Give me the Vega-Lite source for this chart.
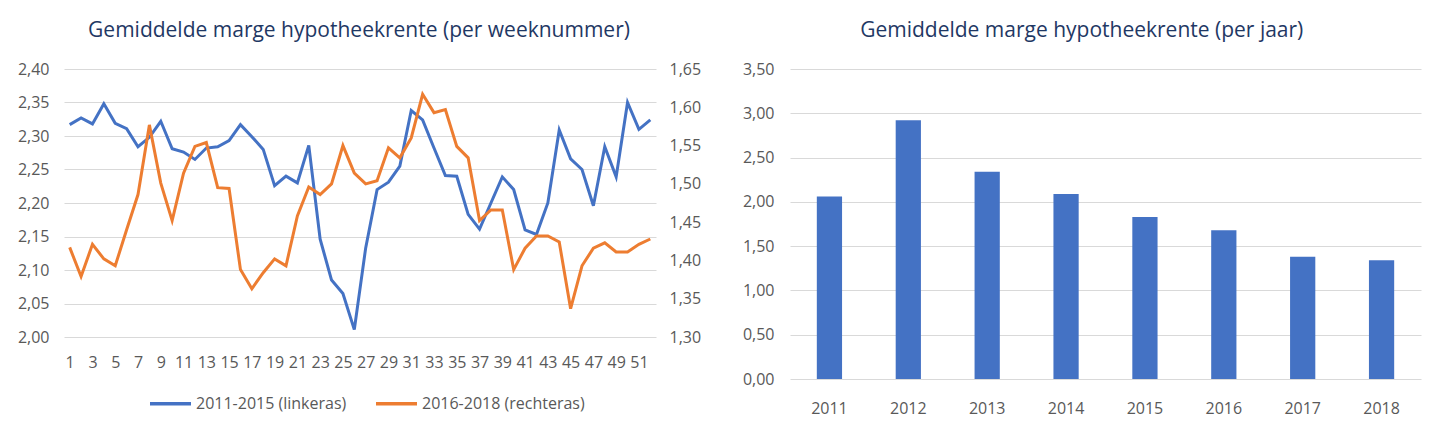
{
  "$schema": "https://vega.github.io/schema/vega-lite/v6.json",
  "background": "white",
  "padding": {"left": 17, "top": 20, "right": 20, "bottom": 5},
  "config": {
    "font": "Open Sans",
    "view": {"stroke": null},
    "axis": {
      "labelColor": "#595959",
      "labelFontSize": 16,
      "labelOverlap": false,
      "domain": false,
      "ticks": false,
      "gridColor": "#D9D9D9",
      "gridWidth": 1,
      "title": null
    },
    "title": {"color": "#1F3864", "fontSize": 21, "fontWeight": "normal", "offset": 20, "frame": "bounds"},
    "concat": {"spacing": 41}
  },
  "hconcat": [
    {
      "title": "Gemiddelde marge hypotheekrente (per weeknummer)",
      "width": 592,
      "height": 268,
      "data": {
        "values": [
          {"week": 1, "reeks": "2011-2015 (linkeras)", "marge": 2.317},
          {"week": 2, "reeks": "2011-2015 (linkeras)", "marge": 2.327},
          {"week": 3, "reeks": "2011-2015 (linkeras)", "marge": 2.318},
          {"week": 4, "reeks": "2011-2015 (linkeras)", "marge": 2.348},
          {"week": 5, "reeks": "2011-2015 (linkeras)", "marge": 2.319},
          {"week": 6, "reeks": "2011-2015 (linkeras)", "marge": 2.311},
          {"week": 7, "reeks": "2011-2015 (linkeras)", "marge": 2.284},
          {"week": 8, "reeks": "2011-2015 (linkeras)", "marge": 2.298},
          {"week": 9, "reeks": "2011-2015 (linkeras)", "marge": 2.322},
          {"week": 10, "reeks": "2011-2015 (linkeras)", "marge": 2.281},
          {"week": 11, "reeks": "2011-2015 (linkeras)", "marge": 2.276},
          {"week": 12, "reeks": "2011-2015 (linkeras)", "marge": 2.265},
          {"week": 13, "reeks": "2011-2015 (linkeras)", "marge": 2.282},
          {"week": 14, "reeks": "2011-2015 (linkeras)", "marge": 2.284},
          {"week": 15, "reeks": "2011-2015 (linkeras)", "marge": 2.293},
          {"week": 16, "reeks": "2011-2015 (linkeras)", "marge": 2.317},
          {"week": 17, "reeks": "2011-2015 (linkeras)", "marge": 2.299},
          {"week": 18, "reeks": "2011-2015 (linkeras)", "marge": 2.280},
          {"week": 19, "reeks": "2011-2015 (linkeras)", "marge": 2.226},
          {"week": 20, "reeks": "2011-2015 (linkeras)", "marge": 2.240},
          {"week": 21, "reeks": "2011-2015 (linkeras)", "marge": 2.230},
          {"week": 22, "reeks": "2011-2015 (linkeras)", "marge": 2.286},
          {"week": 23, "reeks": "2011-2015 (linkeras)", "marge": 2.146},
          {"week": 24, "reeks": "2011-2015 (linkeras)", "marge": 2.085},
          {"week": 25, "reeks": "2011-2015 (linkeras)", "marge": 2.065},
          {"week": 26, "reeks": "2011-2015 (linkeras)", "marge": 2.011},
          {"week": 27, "reeks": "2011-2015 (linkeras)", "marge": 2.133},
          {"week": 28, "reeks": "2011-2015 (linkeras)", "marge": 2.220},
          {"week": 29, "reeks": "2011-2015 (linkeras)", "marge": 2.231},
          {"week": 30, "reeks": "2011-2015 (linkeras)", "marge": 2.255},
          {"week": 31, "reeks": "2011-2015 (linkeras)", "marge": 2.338},
          {"week": 32, "reeks": "2011-2015 (linkeras)", "marge": 2.324},
          {"week": 33, "reeks": "2011-2015 (linkeras)", "marge": 2.282},
          {"week": 34, "reeks": "2011-2015 (linkeras)", "marge": 2.241},
          {"week": 35, "reeks": "2011-2015 (linkeras)", "marge": 2.240},
          {"week": 36, "reeks": "2011-2015 (linkeras)", "marge": 2.183},
          {"week": 37, "reeks": "2011-2015 (linkeras)", "marge": 2.161},
          {"week": 38, "reeks": "2011-2015 (linkeras)", "marge": 2.200},
          {"week": 39, "reeks": "2011-2015 (linkeras)", "marge": 2.239},
          {"week": 40, "reeks": "2011-2015 (linkeras)", "marge": 2.220},
          {"week": 41, "reeks": "2011-2015 (linkeras)", "marge": 2.160},
          {"week": 42, "reeks": "2011-2015 (linkeras)", "marge": 2.153},
          {"week": 43, "reeks": "2011-2015 (linkeras)", "marge": 2.200},
          {"week": 44, "reeks": "2011-2015 (linkeras)", "marge": 2.309},
          {"week": 45, "reeks": "2011-2015 (linkeras)", "marge": 2.266},
          {"week": 46, "reeks": "2011-2015 (linkeras)", "marge": 2.250},
          {"week": 47, "reeks": "2011-2015 (linkeras)", "marge": 2.196},
          {"week": 48, "reeks": "2011-2015 (linkeras)", "marge": 2.284},
          {"week": 49, "reeks": "2011-2015 (linkeras)", "marge": 2.239},
          {"week": 50, "reeks": "2011-2015 (linkeras)", "marge": 2.350},
          {"week": 51, "reeks": "2011-2015 (linkeras)", "marge": 2.310},
          {"week": 52, "reeks": "2011-2015 (linkeras)", "marge": 2.324},
          {"week": 1, "reeks": "2016-2018 (rechteras)", "marge": 1.417},
          {"week": 2, "reeks": "2016-2018 (rechteras)", "marge": 1.379},
          {"week": 3, "reeks": "2016-2018 (rechteras)", "marge": 1.421},
          {"week": 4, "reeks": "2016-2018 (rechteras)", "marge": 1.402},
          {"week": 5, "reeks": "2016-2018 (rechteras)", "marge": 1.393},
          {"week": 6, "reeks": "2016-2018 (rechteras)", "marge": 1.440},
          {"week": 7, "reeks": "2016-2018 (rechteras)", "marge": 1.486},
          {"week": 8, "reeks": "2016-2018 (rechteras)", "marge": 1.577},
          {"week": 9, "reeks": "2016-2018 (rechteras)", "marge": 1.501},
          {"week": 10, "reeks": "2016-2018 (rechteras)", "marge": 1.452},
          {"week": 11, "reeks": "2016-2018 (rechteras)", "marge": 1.514},
          {"week": 12, "reeks": "2016-2018 (rechteras)", "marge": 1.549},
          {"week": 13, "reeks": "2016-2018 (rechteras)", "marge": 1.554},
          {"week": 14, "reeks": "2016-2018 (rechteras)", "marge": 1.495},
          {"week": 15, "reeks": "2016-2018 (rechteras)", "marge": 1.494},
          {"week": 16, "reeks": "2016-2018 (rechteras)", "marge": 1.388},
          {"week": 17, "reeks": "2016-2018 (rechteras)", "marge": 1.363},
          {"week": 18, "reeks": "2016-2018 (rechteras)", "marge": 1.384},
          {"week": 19, "reeks": "2016-2018 (rechteras)", "marge": 1.402},
          {"week": 20, "reeks": "2016-2018 (rechteras)", "marge": 1.393},
          {"week": 21, "reeks": "2016-2018 (rechteras)", "marge": 1.458},
          {"week": 22, "reeks": "2016-2018 (rechteras)", "marge": 1.496},
          {"week": 23, "reeks": "2016-2018 (rechteras)", "marge": 1.486},
          {"week": 24, "reeks": "2016-2018 (rechteras)", "marge": 1.500},
          {"week": 25, "reeks": "2016-2018 (rechteras)", "marge": 1.550},
          {"week": 26, "reeks": "2016-2018 (rechteras)", "marge": 1.514},
          {"week": 27, "reeks": "2016-2018 (rechteras)", "marge": 1.500},
          {"week": 28, "reeks": "2016-2018 (rechteras)", "marge": 1.504},
          {"week": 29, "reeks": "2016-2018 (rechteras)", "marge": 1.547},
          {"week": 30, "reeks": "2016-2018 (rechteras)", "marge": 1.534},
          {"week": 31, "reeks": "2016-2018 (rechteras)", "marge": 1.560},
          {"week": 32, "reeks": "2016-2018 (rechteras)", "marge": 1.617},
          {"week": 33, "reeks": "2016-2018 (rechteras)", "marge": 1.593},
          {"week": 34, "reeks": "2016-2018 (rechteras)", "marge": 1.597},
          {"week": 35, "reeks": "2016-2018 (rechteras)", "marge": 1.549},
          {"week": 36, "reeks": "2016-2018 (rechteras)", "marge": 1.534},
          {"week": 37, "reeks": "2016-2018 (rechteras)", "marge": 1.452},
          {"week": 38, "reeks": "2016-2018 (rechteras)", "marge": 1.466},
          {"week": 39, "reeks": "2016-2018 (rechteras)", "marge": 1.466},
          {"week": 40, "reeks": "2016-2018 (rechteras)", "marge": 1.388},
          {"week": 41, "reeks": "2016-2018 (rechteras)", "marge": 1.416},
          {"week": 42, "reeks": "2016-2018 (rechteras)", "marge": 1.432},
          {"week": 43, "reeks": "2016-2018 (rechteras)", "marge": 1.432},
          {"week": 44, "reeks": "2016-2018 (rechteras)", "marge": 1.424},
          {"week": 45, "reeks": "2016-2018 (rechteras)", "marge": 1.337},
          {"week": 46, "reeks": "2016-2018 (rechteras)", "marge": 1.393},
          {"week": 47, "reeks": "2016-2018 (rechteras)", "marge": 1.416},
          {"week": 48, "reeks": "2016-2018 (rechteras)", "marge": 1.423},
          {"week": 49, "reeks": "2016-2018 (rechteras)", "marge": 1.411},
          {"week": 50, "reeks": "2016-2018 (rechteras)", "marge": 1.411},
          {"week": 51, "reeks": "2016-2018 (rechteras)", "marge": 1.421},
          {"week": 52, "reeks": "2016-2018 (rechteras)", "marge": 1.428}
        ]
      },
      "encoding": {
        "x": {
          "field": "week",
          "type": "ordinal",
          "axis": {
            "values": [1, 3, 5, 7, 9, 11, 13, 15, 17, 19, 21, 23, 25, 27, 29, 31, 33, 35, 37, 39, 41, 43, 45, 47, 49, 51],
            "labelAngle": 0,
            "labelPadding": 17
          }
        },
        "color": {
          "field": "reeks",
          "type": "nominal",
          "scale": {
            "domain": ["2011-2015 (linkeras)", "2016-2018 (rechteras)"],
            "range": ["#4472C4", "#ED7D31"]
          },
          "legend": {
            "orient": "none",
            "direction": "horizontal",
            "legendX": 84,
            "legendY": 312,
            "title": null,
            "symbolType": "stroke",
            "symbolStrokeWidth": 3.5,
            "symbolSize": 1681,
            "labelOffset": 3,
            "labelFontSize": 16,
            "labelLimit": 300,
            "labelColor": "#595959",
            "columnPadding": 22
          }
        }
      },
      "layer": [
        {
          "transform": [{"filter": "datum.reeks == '2011-2015 (linkeras)'"}],
          "mark": {"type": "line", "strokeWidth": 3},
          "encoding": {
            "y": {
              "field": "marge",
              "type": "quantitative",
              "scale": {"domain": [2.0, 2.4], "nice": false, "zero": false},
              "axis": {
                "orient": "left",
                "values": [2.0, 2.05, 2.1, 2.15, 2.2, 2.25, 2.3, 2.35, 2.4],
                "labelExpr": "replace(format(datum.value, '.2f'), '.', ',')",
                "grid": true,
                "labelPadding": 15
              }
            }
          }
        },
        {
          "transform": [{"filter": "datum.reeks == '2016-2018 (rechteras)'"}],
          "mark": {"type": "line", "strokeWidth": 3},
          "encoding": {
            "y": {
              "field": "marge",
              "type": "quantitative",
              "scale": {"domain": [1.3, 1.65], "nice": false, "zero": false},
              "axis": {
                "orient": "right",
                "values": [1.3, 1.35, 1.4, 1.45, 1.5, 1.55, 1.6, 1.65],
                "labelExpr": "replace(format(datum.value, '.2f'), '.', ',')",
                "grid": false,
                "labelPadding": 13
              }
            }
          }
        }
      ],
      "resolve": {"scale": {"y": "independent"}}
    },
    {
      "title": "Gemiddelde marge hypotheekrente (per jaar)",
      "width": 631,
      "height": 310,
      "data": {
        "values": [
          {"jaar": "2011", "marge": 2.06},
          {"jaar": "2012", "marge": 2.92},
          {"jaar": "2013", "marge": 2.34},
          {"jaar": "2014", "marge": 2.09},
          {"jaar": "2015", "marge": 1.83},
          {"jaar": "2016", "marge": 1.68},
          {"jaar": "2017", "marge": 1.38},
          {"jaar": "2018", "marge": 1.34}
        ]
      },
      "mark": {"type": "bar", "color": "#4472C4"},
      "encoding": {
        "x": {
          "field": "jaar",
          "type": "ordinal",
          "scale": {"paddingInner": 0.68, "paddingOuter": 0.34},
          "axis": {"labelAngle": 0, "labelPadding": 21}
        },
        "y": {
          "field": "marge",
          "type": "quantitative",
          "scale": {"domain": [0, 3.5], "nice": false},
          "axis": {
            "values": [0, 0.5, 1, 1.5, 2, 2.5, 3, 3.5],
            "labelExpr": "replace(format(datum.value, '.2f'), '.', ',')",
            "grid": true,
            "labelPadding": 16
          }
        }
      }
    }
  ]
}
